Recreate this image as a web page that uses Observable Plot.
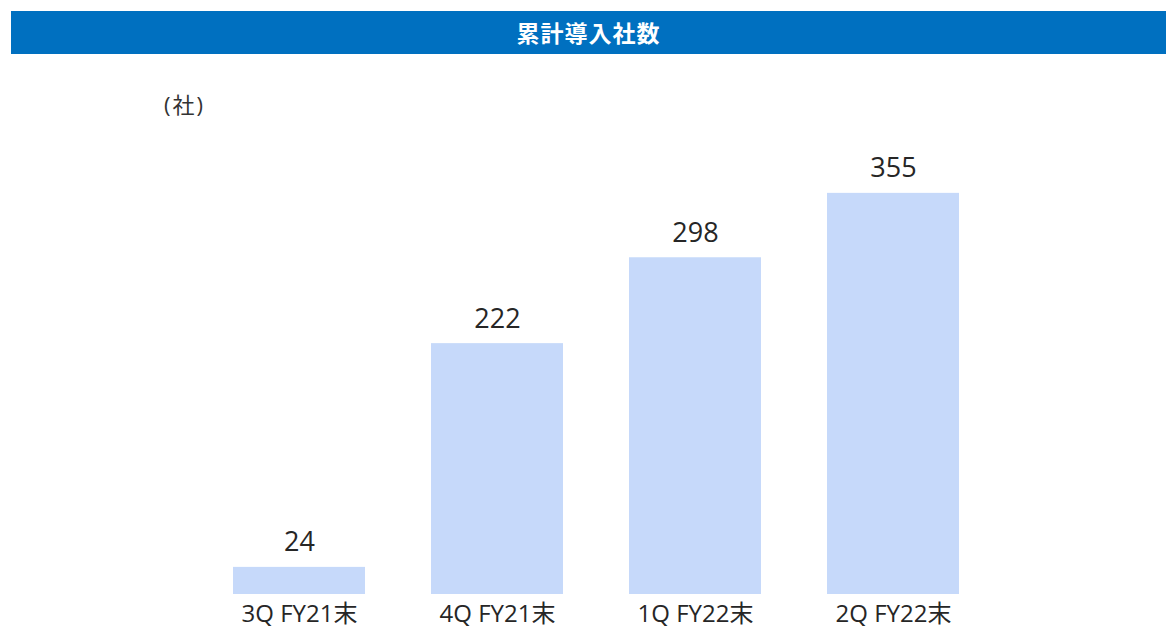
<!DOCTYPE html>
<html>
<head>
<meta charset="utf-8">
<script src="https://cdn.jsdelivr.net/npm/d3@7"></script>
<script src="https://cdn.jsdelivr.net/npm/@observablehq/plot@0.6"></script>
<style>
  html, body { margin: 0; padding: 0; background: #fff; width: 1166px; height: 628px; overflow: hidden; }
  #wrap { position: relative; width: 1166px; height: 628px; font-family: "Open Sans", "Noto Sans CJK JP", sans-serif; }
  #title { position: absolute; left: 11px; top: 11px; width: 1155px; height: 43px; background: #0070c0; color: #fff;
           font-family: "Noto Sans CJK JP", sans-serif;
           font-weight: bold; font-size: 23px; line-height: 43px; text-align: center; letter-spacing: 1px; }
  #unit { position: absolute; left: 164px; top: 87px; font-size: 22px; color: #333; letter-spacing: 2px; }
  #chart { position: absolute; left: 0; top: 60px; }
</style>
</head>
<body>
<div id="wrap">
  <div id="title">累計導入社数</div>
  <div id="unit">(社)</div>
  <div id="chart"></div>
</div>
<script>
const categories = ["3Q FY21末", "4Q FY21末", "1Q FY22末", "2Q FY22末"];
const values = [24, 222, 298, 355];

const data = categories.map((c, i) => ({ period: c, count: values[i] }));

const chart = Plot.plot({
  width: 1166,
  height: 568,
  marginLeft: 200,
  marginRight: 174,
  marginTop: 82,
  marginBottom: 34,
  style: { fontFamily: "'Open Sans', 'Noto Sans CJK JP', sans-serif", background: "transparent" },
  x: { domain: categories, paddingInner: 1/3, paddingOuter: 1/6, label: null },
  y: { domain: [0, 400], axis: null },
  marks: [
    Plot.barY(data, { x: "period", y: "count", fill: "#c6d9fa" }),
    Plot.text(data, { x: "period", y: "count", text: d => String(d.count), dy: -16, lineAnchor: "bottom", fontSize: 27, fill: "#262626" }),
    Plot.axisX({ tickSize: 0, tickPadding: 10, fontSize: 24, color: "#262626", label: null })
  ]
});
document.getElementById("chart").appendChild(chart);
</script>
</body>
</html>
